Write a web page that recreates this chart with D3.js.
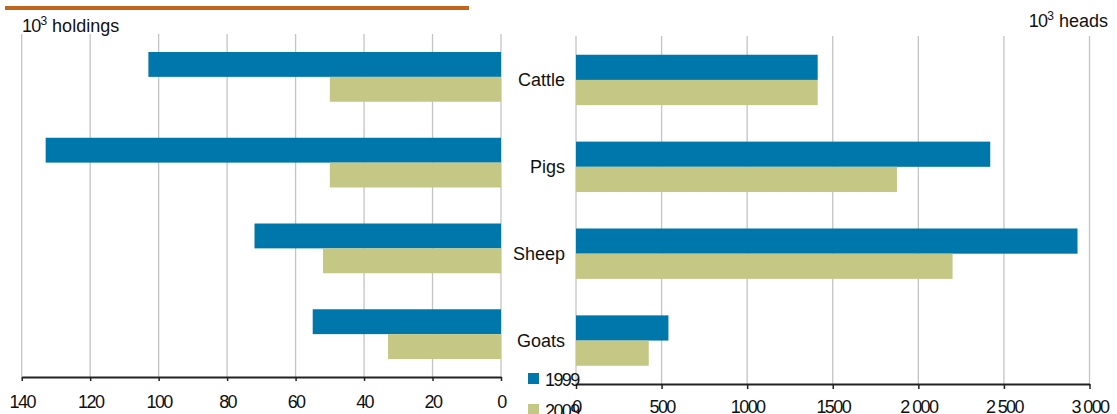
<!DOCTYPE html>
<html>
<head>
<meta charset="utf-8">
<script src="https://cdn.jsdelivr.net/npm/d3@7"></script>
<style>
  html, body { margin: 0; padding: 0; background: #fff; }
  svg { display: block; font-family: "Liberation Sans", Arial, sans-serif; }
  .num { letter-spacing: -1.6px; }
</style>
</head>
<body>
<svg id="chart" width="1117" height="414"></svg>
<script>
// Livestock: holdings (left, thousands) and heads (right, thousands)
const categories = ["Cattle", "Pigs", "Sheep", "Goats"];
const years = ["1999", "2009"];
const holdings1999 = [103, 133, 72, 55];
const holdings2009 = [50, 50, 52, 33];
const heads1999 = [1412, 2420, 2930, 540];
const heads2009 = [1412, 1875, 2200, 425];
const holdingTicks = [140, 120, 100, 80, 60, 40, 20, 0];
const headTicks = [0, 500, 1000, 1500, 2000, 2500, 3000];
const headTickLabels = ["0", "500", "1000", "1500", "2 000", "2 500", "3 000"];

const colors = { "1999": "#0077ab", "2009": "#c5c785" };
const grid = "#c4c4c4";
const fontSize = 18;

const svg = d3.select("#chart");

// accent rule at the top
svg.append("line")
  .attr("x1", 5).attr("x2", 469).attr("y1", 8).attr("y2", 8)
  .attr("stroke", "#c0651c").attr("stroke-width", 4);

// ---------- scales ----------
const xLeft = d3.scaleLinear().domain([0, 140]).range([501, 21.7]);
const xRight = d3.scaleLinear().domain([0, 3000]).range([576, 1089.5]);

const yLeft = d3.scaleBand().domain(categories).range([34, 377])
  .paddingInner(0.42).paddingOuter(0.21);
const yRight = d3.scaleBand().domain(categories).range([36.5, 384])
  .paddingInner(0.42).paddingOuter(0.21);
const subLeft = d3.scaleBand().domain(years).range([0, yLeft.bandwidth()]);
const subRight = d3.scaleBand().domain(years).range([0, yRight.bandwidth()]);

// ---------- left panel: holdings ----------
const left = svg.append("g");
left.selectAll("line.grid").data(holdingTicks).join("line")
  .attr("class", "grid")
  .attr("x1", d => xLeft(d)).attr("x2", d => xLeft(d))
  .attr("y1", 34).attr("y2", 377)
  .attr("stroke", grid).attr("stroke-width", 1.3);

const leftRows = [
  { year: "1999", values: holdings1999 },
  { year: "2009", values: holdings2009 }
];
leftRows.forEach(row => {
  left.selectAll(null).data(categories).join("rect")
    .attr("x", (c, i) => xLeft(row.values[i]))
    .attr("width", (c, i) => xLeft(0) - xLeft(row.values[i]))
    .attr("y", c => yLeft(c) + subLeft(row.year))
    .attr("height", subLeft.bandwidth())
    .attr("fill", colors[row.year]);
});

const leftAxis = left.append("g")
  .attr("transform", "translate(0,377)")
  .call(d3.axisBottom(xLeft).tickValues(holdingTicks).tickSize(4).tickSizeOuter(0));
leftAxis.select(".domain").attr("stroke", "#222").attr("stroke-width", 2);
leftAxis.selectAll(".tick line").attr("stroke", "#222").attr("stroke-width", 1.5);
leftAxis.selectAll(".tick text")
  .attr("class", "num").attr("font-size", fontSize).attr("fill", "#111")
  .attr("font-family", "Liberation Sans, Arial, sans-serif")
  .attr("dy", null).attr("y", 30.5);

const unitL = svg.append("text")
  .attr("x", 22).attr("y", 32)
  .attr("font-size", fontSize).attr("fill", "#111");
unitL.append("tspan").attr("letter-spacing", "-0.8px").text("10");
unitL.append("tspan").attr("font-size", 12).attr("dy", -7).text("3");
unitL.append("tspan").attr("dy", 7).text(" holdings");

// ---------- right panel: heads ----------
const right = svg.append("g");
right.selectAll("line.grid").data(headTicks).join("line")
  .attr("class", "grid")
  .attr("x1", d => xRight(d)).attr("x2", d => xRight(d))
  .attr("y1", 36).attr("y2", 384)
  .attr("stroke", grid).attr("stroke-width", 1.3);

const rightRows = [
  { year: "1999", values: heads1999 },
  { year: "2009", values: heads2009 }
];
rightRows.forEach(row => {
  right.selectAll(null).data(categories).join("rect")
    .attr("x", xRight(0))
    .attr("width", (c, i) => xRight(row.values[i]) - xRight(0))
    .attr("y", c => yRight(c) + subRight(row.year))
    .attr("height", subRight.bandwidth())
    .attr("fill", colors[row.year]);
});

const rightAxis = right.append("g")
  .attr("transform", "translate(0,384)")
  .call(d3.axisBottom(xRight).tickValues(headTicks)
    .tickFormat((d, i) => headTickLabels[i]).tickSize(5).tickSizeOuter(0));
rightAxis.select(".domain").attr("stroke", "#222").attr("stroke-width", 2);
rightAxis.selectAll(".tick line").attr("stroke", "#222").attr("stroke-width", 1.5);
rightAxis.selectAll(".tick text")
  .attr("class", "num").attr("font-size", fontSize).attr("fill", "#111")
  .attr("font-family", "Liberation Sans, Arial, sans-serif")
  .attr("dy", null).attr("y", 29);

const unitR = svg.append("text")
  .attr("x", 1108).attr("y", 26.5).attr("text-anchor", "end")
  .attr("font-size", fontSize).attr("fill", "#111");
unitR.append("tspan").attr("letter-spacing", "-0.8px").text("10");
unitR.append("tspan").attr("font-size", 12).attr("dy", -7).text("3");
unitR.append("tspan").attr("dy", 7).text(" heads");

// category labels between the panels
svg.selectAll("text.cat").data(categories).join("text")
  .attr("class", "cat")
  .attr("x", 565)
  .attr("y", c => yRight(c) + yRight.bandwidth() / 2)
  .attr("dy", "0.35em")
  .attr("text-anchor", "end")
  .attr("font-size", fontSize).attr("fill", "#111")
  .text(c => c);

// legend
const legend = svg.append("g");
years.forEach((y, i) => {
  const top = 373 + i * 31;
  legend.append("rect")
    .attr("x", 528).attr("y", top).attr("width", 11).attr("height", 11)
    .attr("fill", colors[y]);
  legend.append("text")
    .attr("class", "num")
    .attr("x", 545).attr("y", top + 12.5)
    .attr("font-size", fontSize).attr("fill", "#111")
    .text(y);
});
</script>
</body>
</html>
